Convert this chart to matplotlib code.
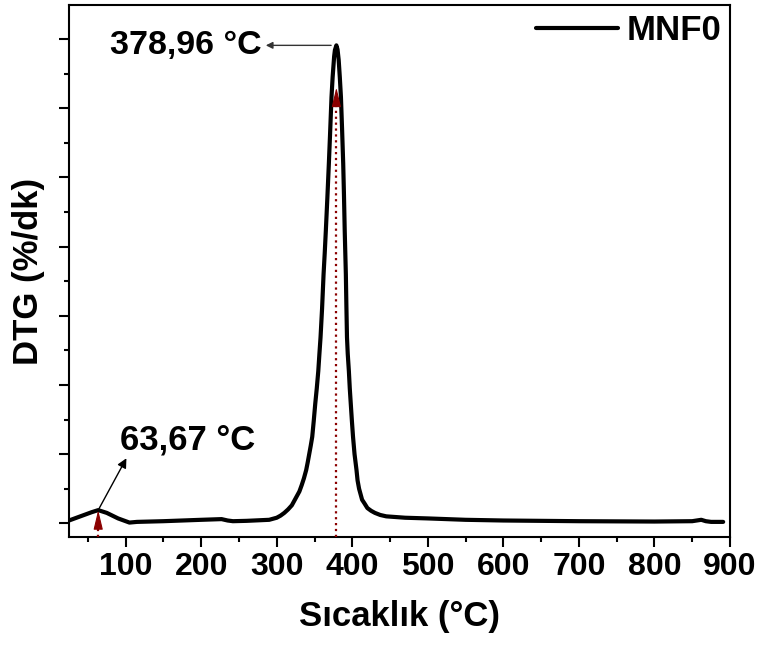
import matplotlib
matplotlib.use("Agg")
import matplotlib.pyplot as plt
from matplotlib.ticker import MultipleLocator, NullFormatter

plt.rcParams['font.family'] = ['Liberation Sans', 'DejaVu Sans']
plt.rcParams['font.weight'] = 'bold'

# DTG curve of sample MNF0 (temperature in °C, DTG in arbitrary %/dk units)
temperature = [25, 40, 55, 63.67, 75, 90, 105, 115, 150, 200, 227, 235, 242, 260,
               290, 300, 305, 310, 315, 320, 326, 330, 333, 336, 339, 341, 343,
               345, 347, 349, 351, 353, 355, 356.5, 358, 360, 362, 363.5, 365,
               367, 369, 370.5, 372.5, 374, 376, 377, 378.96, 380.5, 382, 383.5,
               385, 386.5, 388, 389, 390, 391.5, 392.2, 393, 394, 395.5, 396.7,
               398, 399.5, 401, 403, 405.6, 407, 409, 411, 413, 416, 420, 425,
               430, 437, 445, 470, 500, 550, 600, 700, 800, 850, 862, 868, 875, 891]
dtg = [0.04, 0.10, 0.16, 0.19, 0.15, 0.07, 0.01, 0.02, 0.03, 0.05, 0.06, 0.04,
       0.03, 0.035, 0.05, 0.08, 0.11, 0.15, 0.20, 0.26, 0.38, 0.46, 0.55, 0.65,
       0.77, 0.88, 1.0, 1.12, 1.25, 1.48, 1.73, 1.95, 2.2, 2.45, 2.69, 3.1, 3.6,
       3.9, 4.23, 4.7, 5.2, 5.6, 6.16, 6.45, 6.75, 6.84, 6.91, 6.85, 6.7, 6.45,
       6.16, 5.7, 5.2, 4.75, 4.23, 3.6, 3.15, 2.69, 2.45, 2.2, 1.95, 1.73, 1.48,
       1.25, 1.0, 0.77, 0.62, 0.5, 0.42, 0.34, 0.29, 0.22, 0.18, 0.15, 0.12,
       0.10, 0.08, 0.07, 0.05, 0.04, 0.03, 0.025, 0.03, 0.05, 0.03, 0.02, 0.02]

series_name = "MNF0"
peak_temps = [63.67, 378.96]
peak_vals = [0.19, 6.91]
peak_labels = ["63,67 °C", "378,96 °C"]
x_ticks = [100, 200, 300, 400, 500, 600, 700, 800, 900]

fig = plt.figure(figsize=(7.65, 6.55), dpi=100)
ax = fig.add_axes([0.0902, 0.180, 0.8640, 0.812])

ax.plot(temperature, dtg, color='black', lw=3.0, label=series_name,
        solid_joinstyle='round', solid_capstyle='round', zorder=3)

ax.set_xlim(25, 900)
ax.set_ylim(-0.2, 7.49)
ax.set_xticks(x_ticks)
ax.xaxis.set_minor_locator(MultipleLocator(50))
ax.yaxis.set_major_locator(MultipleLocator(1))
ax.yaxis.set_minor_locator(MultipleLocator(0.5))
ax.yaxis.set_major_formatter(NullFormatter())

for side in ax.spines.values():
    side.set_linewidth(1.5)
ax.tick_params(which='major', direction='out', length=7, width=1.5,
               labelsize=23, pad=4)
ax.tick_params(which='minor', direction='out', length=3.5, width=1.5)
for lab in ax.get_xticklabels():
    lab.set_fontweight('bold')

ax.set_xlabel("Sıcaklık (°C)", fontsize=25, fontweight='bold')
ax.xaxis.set_label_coords(0.5, -0.118)
ax.xaxis.label.set_va('top')
ax.set_ylabel("DTG (%/dk)", fontsize=25, fontweight='bold')
ax.yaxis.set_label_coords(-0.036, 0.5)

# dotted markers under each peak
red = '#8B0000'
tips = [peak_vals[0], 6.3]
for t, tip in zip(peak_temps, tips):
    ax.plot([t, t], [-0.2, tip - 0.15], ls=':', color=red, lw=1.6, zorder=4)
    ax.annotate('', xy=(t, tip), xytext=(t, tip - 0.2),
                arrowprops=dict(arrowstyle='-|>,head_length=0.75,head_width=0.18',
                                color=red, lw=0.8, mutation_scale=16,
                                shrinkA=0, shrinkB=0),
                zorder=5)

# peak annotations
ax.annotate(peak_labels[1], xy=(372, peak_vals[1]), xytext=(280, peak_vals[1]),
            ha='right', va='center', fontsize=24.5, fontweight='bold',
            arrowprops=dict(arrowstyle='<|-', color='#333333', lw=1.0,
                            mutation_scale=10, shrinkA=1, shrinkB=0))

ax.annotate('', xy=(101, 0.94), xytext=(peak_temps[0], peak_vals[0]),
            arrowprops=dict(arrowstyle='-|>', color='black', lw=1.0,
                            mutation_scale=14, shrinkA=0, shrinkB=0))
ax.text(92, 1.2, peak_labels[0], ha='left', va='center',
        fontsize=25, fontweight='bold')

ax.legend(loc='upper right', frameon=False,
          prop=dict(size=25, weight='bold'), handlelength=2.35,
          handletextpad=0.25, borderaxespad=0.1, borderpad=0.15)

fig.savefig("out.png", dpi=100)
